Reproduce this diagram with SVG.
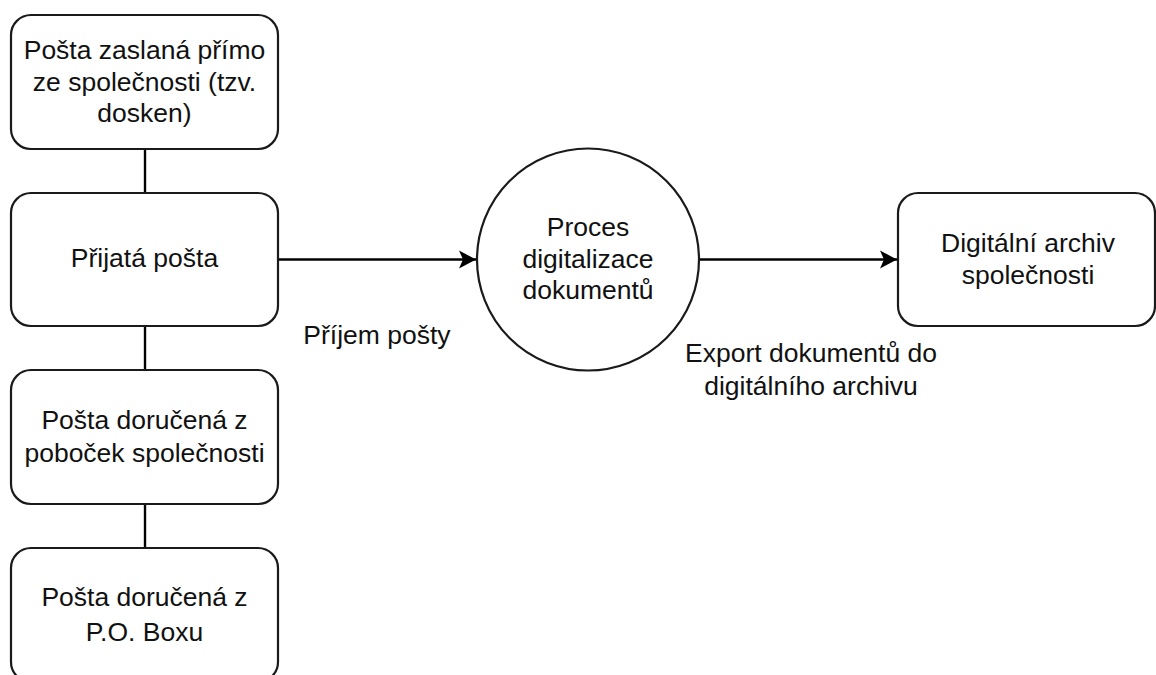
<svg xmlns="http://www.w3.org/2000/svg" width="1156" height="675" viewBox="0 0 1156 675">
  <defs>
    <style>
      .box { fill: #ffffff; stroke: #1a1a1a; stroke-width: 2.2; }
      .edge { fill: none; stroke: #000000; stroke-width: 2.4; }
      .lbl { font-family: "Liberation Sans", Arial, sans-serif; font-size: 26.5px; fill: #111111; text-anchor: middle; }
    </style>
    <marker id="arrow" viewBox="0 0 18 20" refX="17" refY="10" markerWidth="18" markerHeight="20" markerUnits="userSpaceOnUse" orient="auto">
      <path d="M0,1 L17,10 L0,19 L4,10 Z" fill="#000000"/>
    </marker>
  </defs>
  <rect width="1156" height="675" fill="#ffffff"/>

  <!-- connectors -->
  <g id="connectors">
    <line class="edge" x1="145" y1="149" x2="145" y2="193"/>
    <line class="edge" x1="145" y1="326" x2="145" y2="370"/>
    <line class="edge" x1="145" y1="504" x2="145" y2="548"/>
    <line class="edge" x1="278" y1="259.5" x2="476" y2="259.5" marker-end="url(#arrow)"/>
    <line class="edge" x1="699" y1="259.5" x2="897" y2="259.5" marker-end="url(#arrow)"/>
    <text class="lbl" x="377" y="344">Příjem pošty</text>
    <text class="lbl" x="811" y="362">Export dokumentů do</text>
    <text class="lbl" x="811" y="395">digitálního archivu</text>
  </g>

  <g id="node-dosken">
    <rect class="box" x="11" y="15" width="267" height="134" rx="20" ry="20"/>
    <text class="lbl" x="144.5" y="59">Pošta zaslaná přímo</text>
    <text class="lbl" x="144.5" y="91">ze společnosti (tzv.</text>
    <text class="lbl" x="144.5" y="122">dosken)</text>
  </g>

  <g id="node-prijata">
    <rect class="box" x="11" y="193" width="267" height="133" rx="20" ry="20"/>
    <text class="lbl" x="144.5" y="267">Přijatá pošta</text>
  </g>

  <g id="node-pobocky">
    <rect class="box" x="11" y="370" width="267" height="134" rx="20" ry="20"/>
    <text class="lbl" x="144.5" y="429">Pošta doručená z</text>
    <text class="lbl" x="144.5" y="462">poboček společnosti</text>
  </g>

  <g id="node-pobox">
    <rect class="box" x="11" y="548" width="267" height="134" rx="20" ry="20"/>
    <text class="lbl" x="144.5" y="606">Pošta doručená z</text>
    <text class="lbl" x="144.5" y="641">P.O. Boxu</text>
  </g>

  <g id="node-proces">
    <circle class="box" cx="588" cy="259.5" r="111"/>
    <text class="lbl" x="588" y="236">Proces</text>
    <text class="lbl" x="588" y="268">digitalizace</text>
    <text class="lbl" x="588" y="299">dokumentů</text>
  </g>

  <g id="node-archiv">
    <rect class="box" x="898" y="193" width="257" height="133" rx="20" ry="20"/>
    <text class="lbl" x="1028" y="252">Digitální archiv</text>
    <text class="lbl" x="1028" y="284">společnosti</text>
  </g>
</svg>
